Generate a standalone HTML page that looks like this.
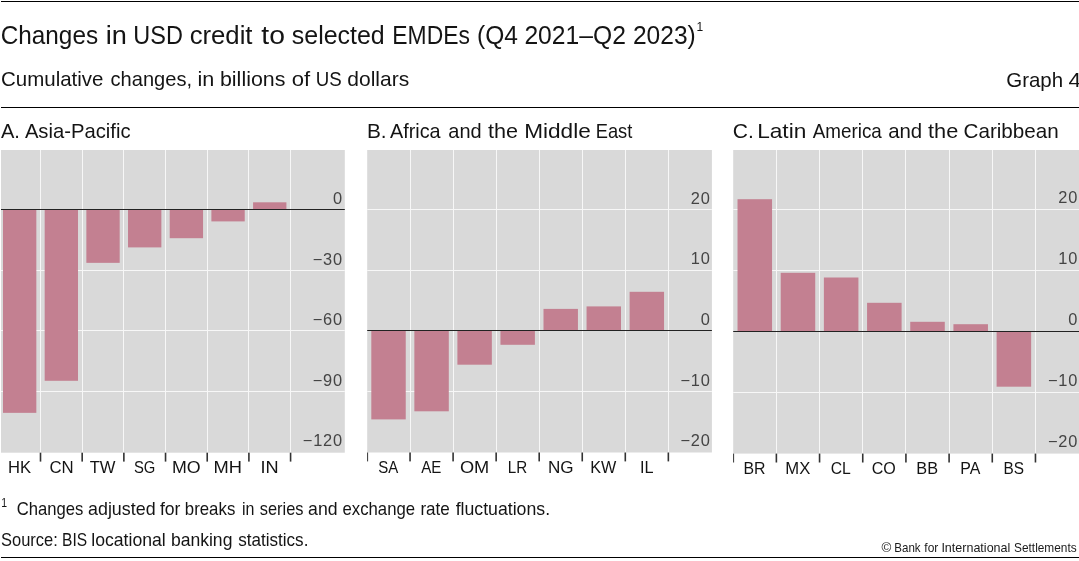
<!DOCTYPE html>
<html lang="en"><head><meta charset="utf-8"><title>Changes in USD credit to selected EMDEs</title>
<style>html,body{margin:0;padding:0;background:#fff;overflow:hidden;}svg{display:block;}text{font-family:"Liberation Sans", sans-serif;}.yl{font-size:16.4px;letter-spacing:0.8px;fill:#444444;text-anchor:end;}.xl{font-size:16.8px;fill:#141414;}</style></head><body>
<svg width="1079" height="561" viewBox="0 0 1079 561">
<rect x="0" y="0" width="1079" height="561" fill="#fff"/>
<rect x="1" y="1" width="1078" height="1" fill="#000"/>
<rect x="1" y="107" width="1078" height="1" fill="#000"/>
<rect x="1" y="557" width="1078" height="1" fill="#000"/>
<text y="43.50" font-size="26.0" fill="#141414"><tspan x="0.71" textLength="97.38" lengthAdjust="spacingAndGlyphs">Changes</tspan> <tspan x="105.67" textLength="21.14" lengthAdjust="spacingAndGlyphs">in</tspan> <tspan x="133.29" textLength="49.55" lengthAdjust="spacingAndGlyphs">USD</tspan> <tspan x="189.69" textLength="62.81" lengthAdjust="spacingAndGlyphs">credit</tspan> <tspan x="261.35" textLength="23.64" lengthAdjust="spacingAndGlyphs">to</tspan> <tspan x="291.78" textLength="92.97" lengthAdjust="spacingAndGlyphs">selected</tspan> <tspan x="392.33" textLength="77.54" lengthAdjust="spacingAndGlyphs">EMDEs</tspan> <tspan x="476.97" textLength="40.91" lengthAdjust="spacingAndGlyphs">(Q4</tspan> <tspan x="524.41" textLength="101.47" lengthAdjust="spacingAndGlyphs">2021–Q2</tspan> <tspan x="632.92" textLength="62.81" lengthAdjust="spacingAndGlyphs">2023)</tspan></text>
<text transform="translate(696.388 31.20) scale(0.9000 1)" font-size="13.4" fill="#141414">1</text>
<text y="86.40" font-size="20.7" fill="#141414"><tspan x="1.01" textLength="102.49" lengthAdjust="spacingAndGlyphs">Cumulative</tspan> <tspan x="110.55" textLength="81.48" lengthAdjust="spacingAndGlyphs">changes,</tspan> <tspan x="197.46" textLength="16.86" lengthAdjust="spacingAndGlyphs">in</tspan> <tspan x="219.98" textLength="65.43" lengthAdjust="spacingAndGlyphs">billions</tspan> <tspan x="291.66" textLength="18.45" lengthAdjust="spacingAndGlyphs">of</tspan> <tspan x="315.63" textLength="25.98" lengthAdjust="spacingAndGlyphs">US</tspan> <tspan x="347.31" textLength="61.88" lengthAdjust="spacingAndGlyphs">dollars</tspan></text>
<text y="86.50" font-size="20.7" fill="#141414"><tspan x="1006.21" textLength="56.96" lengthAdjust="spacingAndGlyphs">Graph</tspan> <tspan x="1068.50" textLength="12.55" lengthAdjust="spacingAndGlyphs">4</tspan></text>
<text y="137.80" font-size="20.8" fill="#141414"><tspan x="0.98" textLength="18.96" lengthAdjust="spacingAndGlyphs">A.</tspan> <tspan x="24.88" textLength="105.63" lengthAdjust="spacingAndGlyphs">Asia-Pacific</tspan></text>
<text y="137.80" font-size="20.8" fill="#141414"><tspan x="366.95" textLength="19.65" lengthAdjust="spacingAndGlyphs">B.</tspan> <tspan x="389.98" textLength="50.66" lengthAdjust="spacingAndGlyphs">Africa</tspan> <tspan x="448.36" textLength="33.31" lengthAdjust="spacingAndGlyphs">and</tspan> <tspan x="488.11" textLength="30.04" lengthAdjust="spacingAndGlyphs">the</tspan> <tspan x="524.20" textLength="66.57" lengthAdjust="spacingAndGlyphs">Middle</tspan> <tspan x="595.72" textLength="36.62" lengthAdjust="spacingAndGlyphs">East</tspan></text>
<text y="137.80" font-size="20.8" fill="#141414"><tspan x="732.79" textLength="21.06" lengthAdjust="spacingAndGlyphs">C.</tspan> <tspan x="757.15" textLength="49.16" lengthAdjust="spacingAndGlyphs">Latin</tspan> <tspan x="812.79" textLength="69.04" lengthAdjust="spacingAndGlyphs">America</tspan> <tspan x="888.14" textLength="34.06" lengthAdjust="spacingAndGlyphs">and</tspan> <tspan x="928.01" textLength="30.25" lengthAdjust="spacingAndGlyphs">the</tspan> <tspan x="963.51" textLength="95.23" lengthAdjust="spacingAndGlyphs">Caribbean</tspan></text>
<text transform="translate(1.279 506.50) scale(0.8800 1)" font-size="11.9" fill="#141414">1</text>
<text y="514.70" font-size="17.7" fill="#141414"><tspan x="16.63" textLength="66.64" lengthAdjust="spacingAndGlyphs">Changes</tspan> <tspan x="88.04" textLength="67.54" lengthAdjust="spacingAndGlyphs">adjusted</tspan> <tspan x="159.95" textLength="20.53" lengthAdjust="spacingAndGlyphs">for</tspan> <tspan x="184.83" textLength="50.46" lengthAdjust="spacingAndGlyphs">breaks</tspan> <tspan x="241.88" textLength="12.46" lengthAdjust="spacingAndGlyphs">in</tspan> <tspan x="259.74" textLength="43.71" lengthAdjust="spacingAndGlyphs">series</tspan> <tspan x="308.05" textLength="29.50" lengthAdjust="spacingAndGlyphs">and</tspan> <tspan x="342.49" textLength="72.63" lengthAdjust="spacingAndGlyphs">exchange</tspan> <tspan x="420.42" textLength="29.41" lengthAdjust="spacingAndGlyphs">rate</tspan> <tspan x="455.65" textLength="94.43" lengthAdjust="spacingAndGlyphs">fluctuations.</tspan></text>
<text y="545.90" font-size="17.7" fill="#141414"><tspan x="1.04" textLength="56.78" lengthAdjust="spacingAndGlyphs">Source:</tspan> <tspan x="62.03" textLength="25.11" lengthAdjust="spacingAndGlyphs">BIS</tspan> <tspan x="91.25" textLength="74.50" lengthAdjust="spacingAndGlyphs">locational</tspan> <tspan x="170.88" textLength="61.53" lengthAdjust="spacingAndGlyphs">banking</tspan> <tspan x="238.22" textLength="70.18" lengthAdjust="spacingAndGlyphs">statistics.</tspan></text>
<text y="551.90" font-size="12.2" fill="#1a1a1a"><tspan x="881.64" textLength="9.80" lengthAdjust="spacingAndGlyphs">©</tspan> <tspan x="894.35" textLength="26.30" lengthAdjust="spacingAndGlyphs">Bank</tspan> <tspan x="924.34" textLength="14.00" lengthAdjust="spacingAndGlyphs">for</tspan> <tspan x="941.40" textLength="68.92" lengthAdjust="spacingAndGlyphs">International</tspan> <tspan x="1014.03" textLength="62.67" lengthAdjust="spacingAndGlyphs">Settlements</tspan></text>
<rect x="1.00" y="150.00" width="343.80" height="302.70" fill="#d9d9d9"/>
<rect x="1.00" y="270" width="343.80" height="1" fill="#f7f7f7"/>
<rect x="1.00" y="330" width="343.80" height="1" fill="#f7f7f7"/>
<rect x="1.00" y="391" width="343.80" height="1" fill="#f7f7f7"/>
<rect x="40" y="150.00" width="1" height="302.70" fill="#f7f7f7"/>
<rect x="82" y="150.00" width="1" height="302.70" fill="#f7f7f7"/>
<rect x="123" y="150.00" width="1" height="302.70" fill="#f7f7f7"/>
<rect x="165" y="150.00" width="1" height="302.70" fill="#f7f7f7"/>
<rect x="207" y="150.00" width="1" height="302.70" fill="#f7f7f7"/>
<rect x="248" y="150.00" width="1" height="302.70" fill="#f7f7f7"/>
<rect x="290" y="150.00" width="1" height="302.70" fill="#f7f7f7"/>
<rect x="2.99" y="209.50" width="33.34" height="203.35" fill="#c38091"/>
<rect x="44.67" y="209.50" width="33.34" height="171.30" fill="#c38091"/>
<rect x="86.35" y="209.50" width="33.34" height="53.35" fill="#c38091"/>
<rect x="128.03" y="209.50" width="33.34" height="37.90" fill="#c38091"/>
<rect x="169.71" y="209.50" width="33.34" height="28.70" fill="#c38091"/>
<rect x="211.39" y="209.50" width="33.34" height="11.90" fill="#c38091"/>
<rect x="253.07" y="202.30" width="33.34" height="7.20" fill="#c38091"/>
<rect x="1.00" y="209" width="343.80" height="1" fill="#222"/>
<rect x="39.70" y="452.70" width="1.6" height="8.90" fill="#333"/>
<rect x="81.38" y="452.70" width="1.6" height="8.90" fill="#333"/>
<rect x="123.06" y="452.70" width="1.6" height="8.90" fill="#333"/>
<rect x="164.74" y="452.70" width="1.6" height="8.90" fill="#333"/>
<rect x="206.42" y="452.70" width="1.6" height="8.90" fill="#333"/>
<rect x="248.10" y="452.70" width="1.6" height="8.90" fill="#333"/>
<rect x="289.78" y="452.70" width="1.6" height="8.90" fill="#333"/>
<text class="xl" transform="translate(8.07 472.75) scale(0.9885 1)">HK</text>
<text class="xl" transform="translate(49.40 472.75) scale(1.0000 1)">CN</text>
<text class="xl" transform="translate(89.70 472.75) scale(0.9883 1)">TW</text>
<text class="xl" transform="translate(133.89 472.75) scale(0.8829 1)">SG</text>
<text class="xl" transform="translate(171.92 472.75) scale(1.0602 1)">MO</text>
<text class="xl" transform="translate(213.57 472.75) scale(1.0897 1)">MH</text>
<text class="xl" transform="translate(260.57 472.75) scale(1.0797 1)">IN</text>
<text class="yl" x="342.90" y="204.00">0</text>
<text class="yl" x="342.90" y="264.60">−30</text>
<text class="yl" x="342.90" y="325.20">−60</text>
<text class="yl" x="342.90" y="385.80">−90</text>
<text class="yl" x="342.90" y="446.40">−120</text>
<rect x="367.20" y="150.00" width="344.70" height="302.50" fill="#d9d9d9"/>
<rect x="367.20" y="209" width="344.70" height="1" fill="#f7f7f7"/>
<rect x="367.20" y="270" width="344.70" height="1" fill="#f7f7f7"/>
<rect x="367.20" y="391" width="344.70" height="1" fill="#f7f7f7"/>
<rect x="410" y="150.00" width="1" height="302.50" fill="#f7f7f7"/>
<rect x="453" y="150.00" width="1" height="302.50" fill="#f7f7f7"/>
<rect x="496" y="150.00" width="1" height="302.50" fill="#f7f7f7"/>
<rect x="539" y="150.00" width="1" height="302.50" fill="#f7f7f7"/>
<rect x="582" y="150.00" width="1" height="302.50" fill="#f7f7f7"/>
<rect x="625" y="150.00" width="1" height="302.50" fill="#f7f7f7"/>
<rect x="668" y="150.00" width="1" height="302.50" fill="#f7f7f7"/>
<rect x="371.30" y="330.50" width="34.44" height="88.90" fill="#c38091"/>
<rect x="414.36" y="330.50" width="34.44" height="80.80" fill="#c38091"/>
<rect x="457.40" y="330.50" width="34.44" height="34.20" fill="#c38091"/>
<rect x="500.45" y="330.50" width="34.44" height="14.30" fill="#c38091"/>
<rect x="543.50" y="308.90" width="34.44" height="21.60" fill="#c38091"/>
<rect x="586.55" y="306.40" width="34.44" height="24.10" fill="#c38091"/>
<rect x="629.61" y="291.80" width="34.44" height="38.70" fill="#c38091"/>
<rect x="367.20" y="330" width="344.70" height="1" fill="#222"/>
<rect x="367.10" y="452.50" width="1" height="8.90" fill="#333"/>
<rect x="409.25" y="452.50" width="1.6" height="8.90" fill="#333"/>
<rect x="452.30" y="452.50" width="1.6" height="8.90" fill="#333"/>
<rect x="495.35" y="452.50" width="1.6" height="8.90" fill="#333"/>
<rect x="538.40" y="452.50" width="1.6" height="8.90" fill="#333"/>
<rect x="581.45" y="452.50" width="1.6" height="8.90" fill="#333"/>
<rect x="624.50" y="452.50" width="1.6" height="8.90" fill="#333"/>
<rect x="667.55" y="452.50" width="1.6" height="8.90" fill="#333"/>
<text class="xl" transform="translate(378.19 472.75) scale(0.8935 1)">SA</text>
<text class="xl" transform="translate(421.26 472.75) scale(0.9005 1)">AE</text>
<text class="xl" transform="translate(459.93 472.75) scale(1.0843 1)">OM</text>
<text class="xl" transform="translate(507.83 472.75) scale(0.9062 1)">LR</text>
<text class="xl" transform="translate(547.98 472.75) scale(1.0178 1)">NG</text>
<text class="xl" transform="translate(590.15 472.75) scale(0.9648 1)">KW</text>
<text class="xl" transform="translate(640.05 472.75) scale(0.9664 1)">IL</text>
<text class="yl" x="710.70" y="203.60">20</text>
<text class="yl" x="710.70" y="264.30">10</text>
<text class="yl" x="710.70" y="325.00">0</text>
<text class="yl" x="710.70" y="385.70">−10</text>
<text class="yl" x="710.70" y="446.40">−20</text>
<rect x="733.20" y="150.00" width="345.80" height="303.60" fill="#d9d9d9"/>
<rect x="733.20" y="209" width="345.80" height="1" fill="#f7f7f7"/>
<rect x="733.20" y="270" width="345.80" height="1" fill="#f7f7f7"/>
<rect x="733.20" y="392" width="345.80" height="1" fill="#f7f7f7"/>
<rect x="776" y="150.00" width="1" height="303.60" fill="#f7f7f7"/>
<rect x="819" y="150.00" width="1" height="303.60" fill="#f7f7f7"/>
<rect x="862" y="150.00" width="1" height="303.60" fill="#f7f7f7"/>
<rect x="905" y="150.00" width="1" height="303.60" fill="#f7f7f7"/>
<rect x="949" y="150.00" width="1" height="303.60" fill="#f7f7f7"/>
<rect x="992" y="150.00" width="1" height="303.60" fill="#f7f7f7"/>
<rect x="1035" y="150.00" width="1" height="303.60" fill="#f7f7f7"/>
<rect x="737.52" y="199.20" width="34.54" height="132.10" fill="#c38091"/>
<rect x="780.70" y="272.80" width="34.54" height="58.50" fill="#c38091"/>
<rect x="823.88" y="277.50" width="34.54" height="53.80" fill="#c38091"/>
<rect x="867.06" y="302.80" width="34.54" height="28.50" fill="#c38091"/>
<rect x="910.24" y="321.80" width="34.54" height="9.50" fill="#c38091"/>
<rect x="953.42" y="324.20" width="34.54" height="7.10" fill="#c38091"/>
<rect x="996.60" y="331.30" width="34.54" height="55.40" fill="#c38091"/>
<rect x="733.20" y="331" width="345.80" height="1" fill="#222"/>
<rect x="733.10" y="453.60" width="1" height="8.90" fill="#333"/>
<rect x="775.58" y="453.60" width="1.6" height="8.90" fill="#333"/>
<rect x="818.76" y="453.60" width="1.6" height="8.90" fill="#333"/>
<rect x="861.94" y="453.60" width="1.6" height="8.90" fill="#333"/>
<rect x="905.12" y="453.60" width="1.6" height="8.90" fill="#333"/>
<rect x="948.30" y="453.60" width="1.6" height="8.90" fill="#333"/>
<rect x="991.48" y="453.60" width="1.6" height="8.90" fill="#333"/>
<rect x="1034.66" y="453.60" width="1.6" height="8.90" fill="#333"/>
<text class="xl" transform="translate(743.48 473.60) scale(0.9455 1)">BR</text>
<text class="xl" transform="translate(785.31 473.60) scale(0.9915 1)">MX</text>
<text class="xl" transform="translate(830.71 473.60) scale(0.9375 1)">CL</text>
<text class="xl" transform="translate(871.74 473.60) scale(0.9574 1)">CO</text>
<text class="xl" transform="translate(916.34 473.60) scale(0.9701 1)">BB</text>
<text class="xl" transform="translate(960.37 473.60) scale(0.9492 1)">PA</text>
<text class="xl" transform="translate(1003.52 473.60) scale(0.9158 1)">BS</text>
<text class="yl" x="1078.20" y="203.20">20</text>
<text class="yl" x="1078.20" y="264.05">10</text>
<text class="yl" x="1078.20" y="324.90">0</text>
<text class="yl" x="1078.20" y="385.75">−10</text>
<text class="yl" x="1078.20" y="446.60">−20</text>
</svg></body></html>
